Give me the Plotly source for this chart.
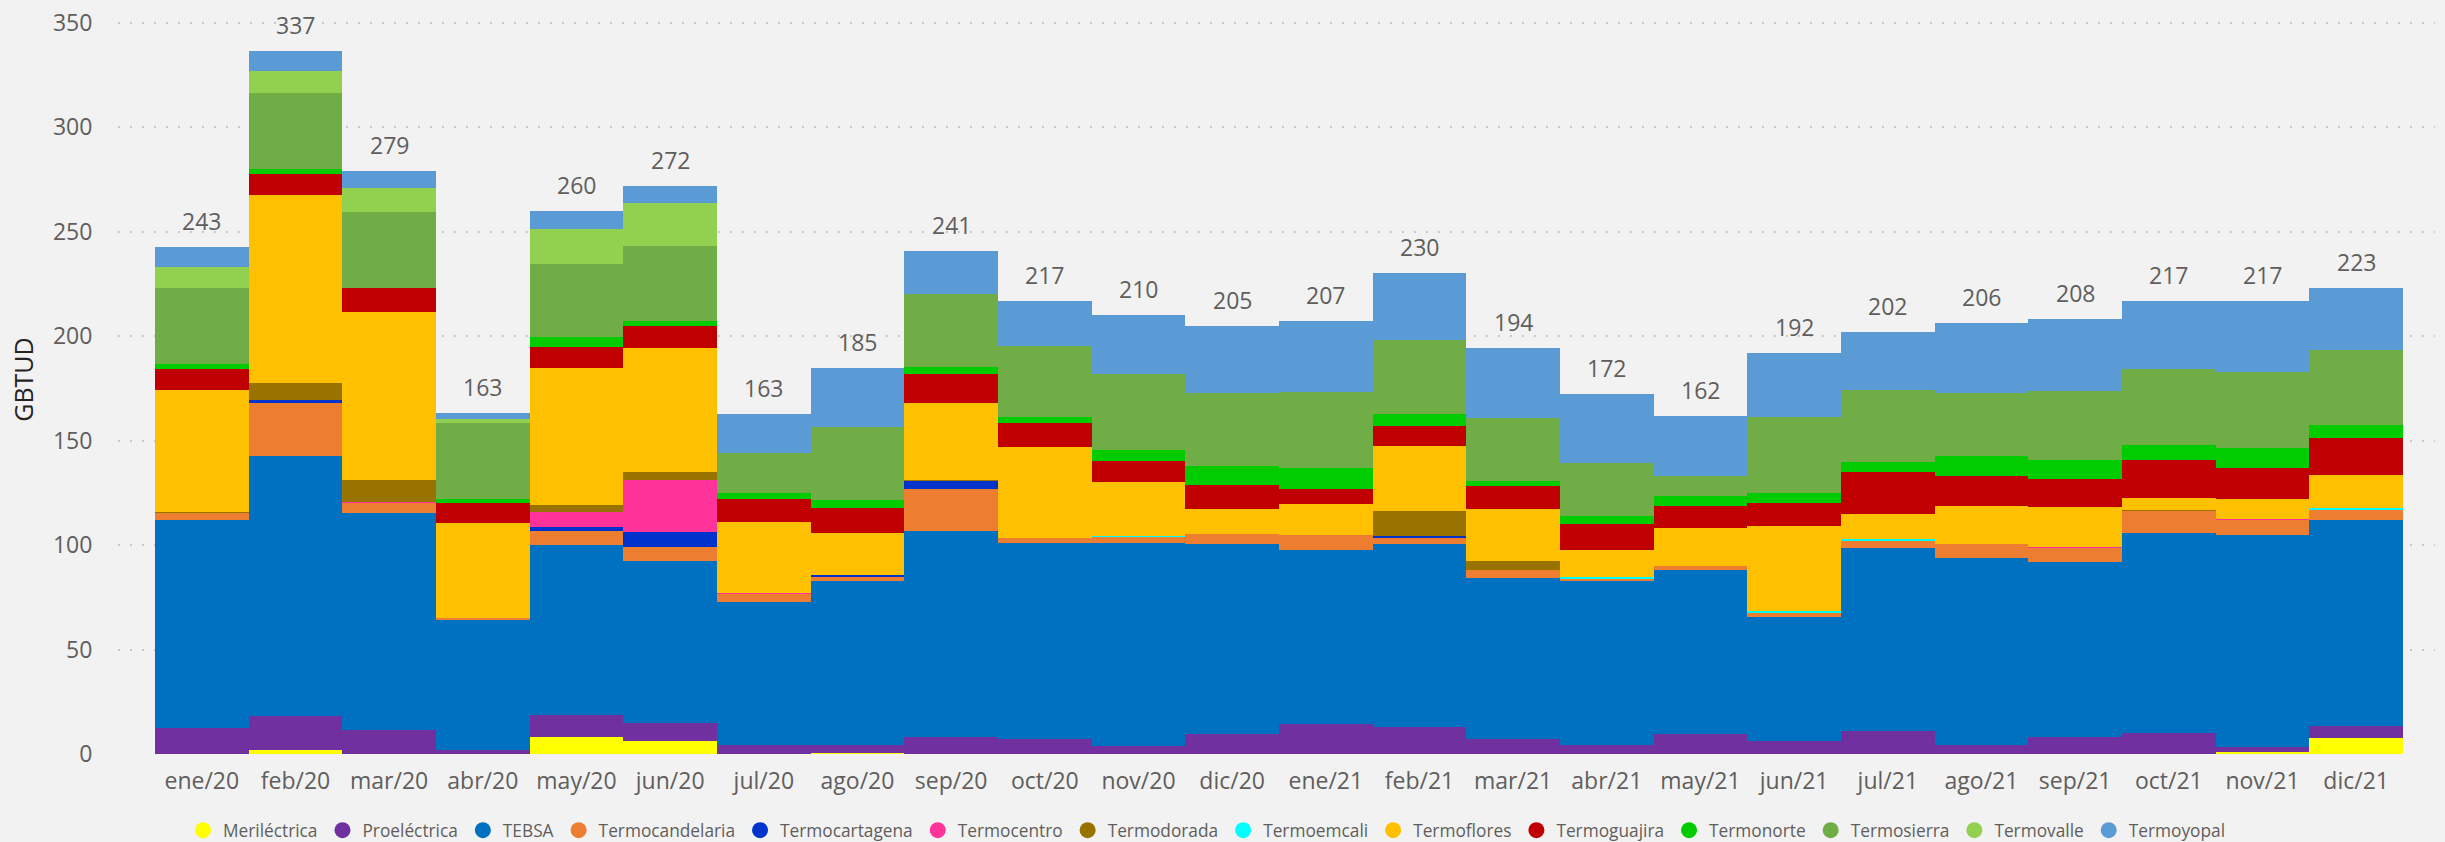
import numpy as np
import plotly.graph_objects as go

months = ["ene/20", "feb/20", "mar/20", "abr/20", "may/20", "jun/20", "jul/20", "ago/20",
          "sep/20", "oct/20", "nov/20", "dic/20", "ene/21", "feb/21", "mar/21", "abr/21",
          "may/21", "jun/21", "jul/21", "ago/21", "sep/21", "oct/21", "nov/21", "dic/21"]

merilectrica = [0, 1.9, 0, 0, 8.3, 6.0, 0, 0.4, 0, 0, 0, 0,
                0, 0, 0, 0, 0, 0, 0, 0, 0, 0, 1.0, 7.9]
proelectrica = [12.6, 16.4, 11.4, 1.7, 10.3, 8.8, 4.3, 3.9, 8.1, 7.4, 3.6, 9.5,
                14.3, 13.1, 7.4, 4.3, 9.5, 6.0, 11.0, 4.3, 8.1, 10.0, 2.3, 5.7]
tebsa = [99.3, 124.3, 103.8, 62.6, 81.6, 77.8, 68.3, 78.3, 98.6, 93.8, 97.6, 91.2,
         83.6, 87.6, 77.1, 78.3, 78.8, 59.5, 87.8, 89.7, 84.0, 95.7, 101.5, 98.3]
termocandelaria = [3.6, 25.3, 5.0, 0.9, 6.5, 6.7, 4.3, 2.6, 20.0, 2.4, 2.8, 4.5,
                   6.9, 2.9, 3.4, 1.4, 1.9, 1.9, 3.3, 6.7, 6.7, 11.0, 7.6, 5.2]
termocartagena = [0, 1.6, 0, 0, 1.9, 6.9, 0, 0.5, 4.3, 0, 0, 0,
                  0, 0.7, 0, 0, 0, 0, 0, 0, 0, 0, 0, 0]
termocentro = [0, 0, 0.3, 0, 7.4, 25.2, 0.3, 0, 0, 0, 0, 0,
               0, 0, 0, 0, 0, 0, 0, 0, 0.3, 0, 0.3, 0]
termodorada = [0.3, 7.9, 10.5, 0, 3.0, 3.8, 0, 0, 0.4, 0, 0, 0,
               0, 11.9, 4.7, 0, 0, 0, 0, 0, 0, 0.3, 0, 0]
termoemcali = [0, 0, 0, 0, 0, 0, 0, 0, 0, 0, 0.4, 0,
               0, 0, 0, 0.6, 0, 1.2, 1.0, 0, 0, 0, 0, 0.5]
termoflores = [58.7, 90.0, 80.4, 45.3, 66.0, 59.3, 34.1, 20.0, 36.5, 43.5, 25.6, 11.9,
               14.7, 31.4, 24.5, 13.3, 17.9, 40.4, 11.7, 17.9, 19.0, 5.4, 9.2, 16.2]
termoguajira = [9.8, 10.2, 11.5, 9.7, 10.0, 10.3, 10.9, 11.9, 13.8, 11.2, 10.5, 11.5,
                7.6, 9.3, 11.0, 12.1, 10.5, 11.0, 20.0, 14.7, 13.8, 18.6, 15.2, 17.4]
termonorte = [2.6, 2.6, 0, 1.7, 4.5, 2.3, 2.9, 3.8, 3.8, 2.9, 5.2, 9.5,
              9.6, 5.7, 2.4, 3.8, 4.7, 5.2, 5.2, 9.6, 9.1, 7.1, 9.6, 6.2]
termosierra = [36.0, 36.5, 36.4, 36.4, 35.3, 36.2, 19.0, 35.3, 34.7, 34.0, 36.0, 34.8,
               36.4, 35.7, 30.5, 25.5, 10.0, 36.0, 34.5, 29.7, 32.8, 36.2, 36.2, 35.9]
termovalle = [10.4, 10.4, 11.9, 1.9, 16.4, 20.7, 0, 0, 0, 0, 0, 0,
              0, 0, 0, 0, 0, 0, 0, 0, 0, 0, 0, 0]
termoyopal = [9.6, 9.6, 8.1, 2.9, 9.0, 8.1, 18.8, 28.3, 20.8, 21.9, 28.6, 32.0,
              34.0, 31.9, 33.2, 32.9, 28.4, 30.9, 27.7, 33.6, 34.3, 32.8, 34.2, 29.9]

series_names = ["Meriléctrica", "Proeléctrica", "TEBSA", "Termocandelaria", "Termocartagena",
                "Termocentro", "Termodorada", "Termoemcali", "Termoflores", "Termoguajira",
                "Termonorte", "Termosierra", "Termovalle", "Termoyopal"]
series_values = [merilectrica, proelectrica, tebsa, termocandelaria, termocartagena,
                 termocentro, termodorada, termoemcali, termoflores, termoguajira,
                 termonorte, termosierra, termovalle, termoyopal]
series_colors = ["#FFFF00", "#7030A0", "#0070C0", "#ED7D31", "#0033CC", "#FF3399", "#997300",
                 "#00FFFF", "#FFC000", "#C00000", "#00CC00", "#70AD47", "#92D050", "#5B9BD5"]

FONT = "Open Sans"
TXT = "#605E5C"

fig = go.Figure()
for name, vals, col in zip(series_names, series_values, series_colors):
    fig.add_trace(go.Bar(x=months, y=vals, name=name, marker=dict(color=col, line=dict(width=0)),
                         showlegend=False))
# legend entries with circle markers
for name, col in zip(series_names, series_colors):
    fig.add_trace(go.Scatter(x=[None], y=[None], mode="markers", name=name,
                             marker=dict(color=col, size=16, symbol="circle")))

totals = np.sum(np.array(series_values), axis=0)
for m, t in zip(months, totals):
    fig.add_annotation(x=m, y=t, text=f"{t:.0f}", showarrow=False, yanchor="bottom",
                       yshift=8, font=dict(family=FONT, size=23, color=TXT))

fig.update_layout(
    width=2445, height=842,
    barmode="stack", bargap=0,
    paper_bgcolor="#F2F2F2", plot_bgcolor="#F2F2F2",
    margin=dict(l=118, r=10, t=5, b=88, autoexpand=False),
    font=dict(family=FONT, color=TXT),
    xaxis=dict(type="category", range=[-0.895, 23.842], showgrid=False, zeroline=False,
               showline=False, tickfont=dict(family=FONT, size=23, color=TXT),
               ticks="outside", ticklen=6, tickcolor="rgba(0,0,0,0)"),
    yaxis=dict(range=[0, 358.6], dtick=50, showgrid=True, gridcolor="#C8C8C8",
               griddash="2px,10px", gridwidth=2, zeroline=False, showline=False,
               tickfont=dict(family=FONT, size=23, color=TXT),
               ticks="outside", ticklen=20, tickcolor="rgba(0,0,0,0)",
               title=dict(text="GBTUD", font=dict(family=FONT, size=25, color="#252423"),
                          standoff=12)),
    legend=dict(orientation="h", x=0.47, xanchor="center",
                y=-0.102, yanchor="middle", font=dict(family=FONT, size=17.3, color=TXT),
                itemwidth=30, traceorder="normal", bgcolor="rgba(0,0,0,0)"),
)

fig.write_html("out.html", config={"displayModeBar": False},
               post_script="document.body.style.margin='0px';")
